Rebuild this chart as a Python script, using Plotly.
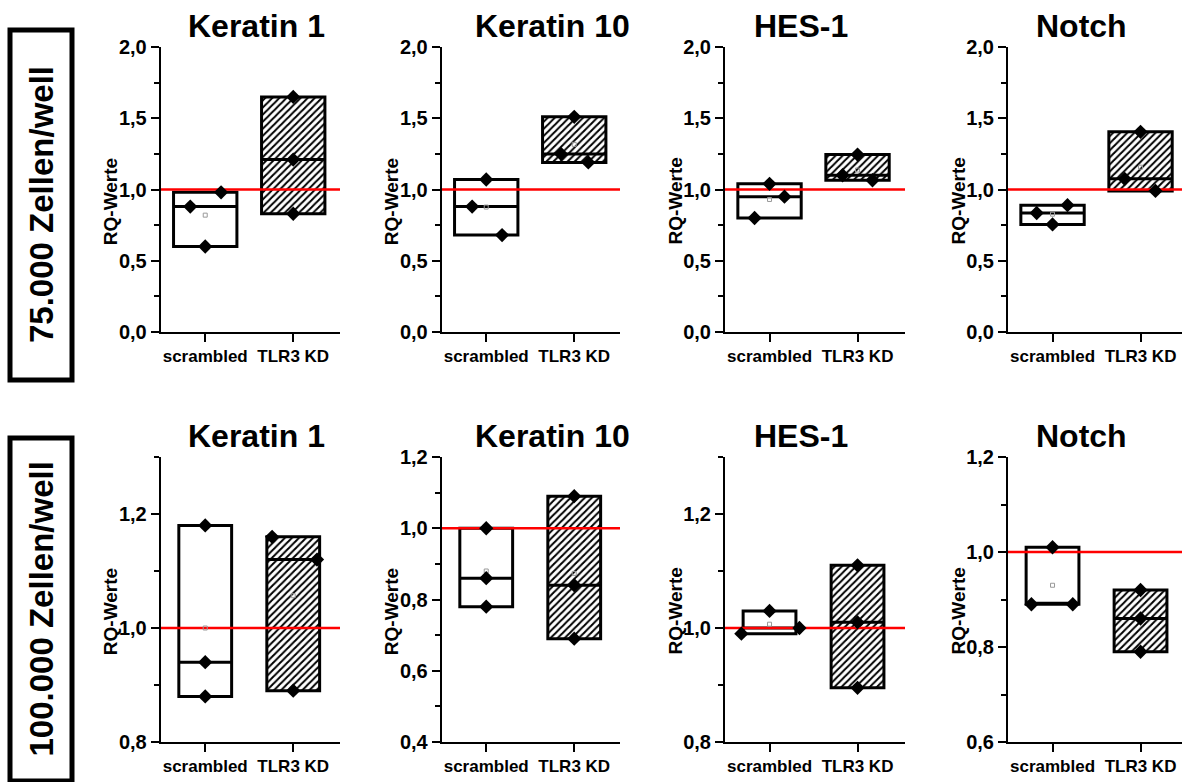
import numpy as np
import plotly.graph_objects as go

# ---------------- data ----------------
CATEGORIES = ["scrambled", "TLR3 KD"]
GENES = ["Keratin 1", "Keratin 10", "HES-1", "Notch"]
ROW_LABELS = ["75.000 Zellen/well", "100.000 Zellen/well"]
Y_LABEL = "RQ-Werte"
REFERENCE_VALUE = 1.0

# 75.000 Zellen/well  (three replicates per group)
K1_75_SCR = [0.98, 0.88, 0.60]
K1_75_KD = [1.65, 1.21, 0.83]
K10_75_SCR = [1.07, 0.88, 0.68]
K10_75_KD = [1.51, 1.25, 1.19]
HES_75_SCR = [1.04, 0.95, 0.80]
HES_75_KD = [1.245, 1.10, 1.065]
NOTCH_75_SCR = [0.89, 0.835, 0.755]
NOTCH_75_KD = [1.405, 1.075, 0.99]

# 100.000 Zellen/well
K1_100_SCR = [1.18, 0.94, 0.88]
K1_100_KD = [1.16, 1.12, 0.89]
K10_100_SCR = [1.00, 0.86, 0.78]
K10_100_KD = [1.09, 0.84, 0.69]
HES_100_SCR = [1.03, 1.00, 0.99]
HES_100_KD = [1.11, 1.01, 0.895]
NOTCH_100_SCR = [1.01, 0.89, 0.89]
NOTCH_100_KD = [0.92, 0.86, 0.79]

ROW_DATA = [
    [(K1_75_SCR, K1_75_KD), (K10_75_SCR, K10_75_KD), (HES_75_SCR, HES_75_KD), (NOTCH_75_SCR, NOTCH_75_KD)],
    [(K1_100_SCR, K1_100_KD), (K10_100_SCR, K10_100_KD), (HES_100_SCR, HES_100_KD), (NOTCH_100_SCR, NOTCH_100_KD)],
]

# ---------------- style / layout ----------------
W, H = 1182, 782
FONT = "Liberation Sans"

# horizontal point spread (style), in category units
JITTER = [
    [([0.18, -0.17, 0.0], [0, 0, 0]), ([0, -0.16, 0.18], [0, -0.15, 0.16]),
     ([0, 0.17, -0.17], [0, -0.17, 0.17]), ([0.17, -0.18, 0], [0, -0.18, 0.17])],
    [([0, 0, 0], [-0.24, 0.27, 0]), ([0, 0, 0], [0, 0, 0]),
     ([0, 0.34, -0.32], [0, 0, 0]), ([0, -0.24, 0.23], [0, 0, 0])],
]
Y_RANGES = [
    [(0, 2), (0, 2), (0, 2), (0, 2)],
    [(0.8, 1.3), (0.4, 1.2), (0.8, 1.3), (0.6, 1.2)],
]
Y_DTICK = [(0.5, 0.25), (0.2, 0.1)]
BOX_WIDTH = [0.72, 0.6]
AXIS_LEFT_PX = [160.7, 441.7, 725, 1008]
AXIS_RIGHT_PX = [340, 620, 905, 1182]
ROW_TOP_PX = [47, 457]
ROW_BOTTOM_PX = [332, 742]
TITLE_X_PX = [256, 552, 801, 1081]
TITLE_Y_PX = [26, 436]
PX_PER_UNIT = 88.0
X0 = 0.494


def fx(px):
    return px / W


def fy(px):
    return 1 - px / H


fig = go.Figure()
annotations = []
shapes = []
layout_axes = {}

idx = 0
for r in range(2):
    for c in range(4):
        idx += 1
        xa = "x" if idx == 1 else f"x{idx}"
        ya = "y" if idx == 1 else f"y{idx}"
        xr = [X0, X0 + (AXIS_RIGHT_PX[c] - AXIS_LEFT_PX[c]) / PX_PER_UNIT]
        scr, kd = ROW_DATA[r][c]
        groups = [np.array(scr), np.array(kd)]
        xs = np.array([1, 2])
        mins = np.array([g.min() for g in groups])
        maxs = np.array([g.max() for g in groups])
        meds = np.array([np.median(g) for g in groups])
        means = np.array([g.mean() for g in groups])
        bw = BOX_WIDTH[r]

        # hatched / white fill
        fig.add_trace(go.Bar(
            x=xs, y=maxs - mins, base=mins, width=bw,
            marker=dict(color="white", line=dict(width=0),
                        pattern=dict(shape=["", "/"], fgcolor="black", bgcolor="white",
                                     size=5, solidity=0.4)),
            xaxis=xa, yaxis=ya, showlegend=False, hoverinfo="skip"))
        # box outline + median
        fig.add_trace(go.Box(
            x=xs, q1=mins, median=meds, q3=maxs, lowerfence=mins, upperfence=maxs,
            width=bw, whiskerwidth=0, fillcolor="rgba(0,0,0,0)",
            line=dict(color="black", width=3), boxpoints=False,
            xaxis=xa, yaxis=ya, showlegend=False, hoverinfo="skip"))
        # reference line at 1.0
        fig.add_trace(go.Scatter(
            x=xr, y=[REFERENCE_VALUE, REFERENCE_VALUE], mode="lines",
            line=dict(color="#ff0000", width=2.5), xaxis=xa, yaxis=ya,
            showlegend=False, hoverinfo="skip", cliponaxis=False))
        # mean markers
        fig.add_trace(go.Scatter(
            x=xs, y=means, mode="markers",
            marker=dict(symbol="square-open", size=4, color="#999999", line=dict(width=1)),
            xaxis=xa, yaxis=ya, showlegend=False, hoverinfo="skip"))
        # individual points
        jit = JITTER[r][c]
        px_ = np.concatenate([1 + np.array(jit[0]), 2 + np.array(jit[1])])
        py_ = np.concatenate(groups)
        fig.add_trace(go.Scatter(
            x=px_, y=py_, mode="markers",
            marker=dict(symbol="diamond", size=11, color="black"),
            xaxis=xa, yaxis=ya, showlegend=False, cliponaxis=False))

        dom_x = [fx(AXIS_LEFT_PX[c]), min(1.0, fx(AXIS_RIGHT_PX[c]))]
        dom_y = [fy(ROW_BOTTOM_PX[r]), fy(ROW_TOP_PX[r])]
        layout_axes["xaxis" if idx == 1 else f"xaxis{idx}"] = dict(
            domain=dom_x, anchor=ya, range=xr, tickvals=[1, 2], ticktext=CATEGORIES,
            showline=True, linewidth=2, linecolor="black", ticks="outside", ticklen=8,
            tickwidth=2, tickcolor="black", showgrid=False, zeroline=False, automargin=False,
            tickfont=dict(family=FONT, size=17, color="black", weight="bold"))
        dt, mdt = Y_DTICK[r]
        layout_axes["yaxis" if idx == 1 else f"yaxis{idx}"] = dict(
            domain=dom_y, anchor=xa, range=list(Y_RANGES[r][c]), dtick=dt, tick0=0,
            tickformat=".1f", showline=True, linewidth=2, linecolor="black",
            ticks="outside", ticklen=8, tickwidth=2, tickcolor="black",
            minor=dict(dtick=mdt, ticks="outside", ticklen=5, tickwidth=2, tickcolor="black"),
            showgrid=False, zeroline=False, automargin=False,
            tickfont=dict(family=FONT, size=20, color="black", weight="bold"))

        annotations.append(dict(
            text=GENES[c], x=fx(TITLE_X_PX[c]), y=fy(TITLE_Y_PX[r]), xref="paper", yref="paper",
            xanchor="center", yanchor="middle", showarrow=False,
            font=dict(family=FONT, size=32, color="black", weight="bold")))
        annotations.append(dict(
            text=Y_LABEL, x=fx(AXIS_LEFT_PX[c] - 50), y=fy((ROW_TOP_PX[r] + ROW_BOTTOM_PX[r]) / 2 + 12),
            xref="paper", yref="paper", xanchor="center", yanchor="middle", textangle=-90,
            showarrow=False, font=dict(family=FONT, size=19, color="black", weight="bold")))

# row labels with frames
ROW_BOX_PX = [(10, 30, 72, 380), (10, 438, 72, 781)]
for label, (x0, y0, x1, y1) in zip(ROW_LABELS, ROW_BOX_PX):
    shapes.append(dict(type="rect", xref="paper", yref="paper",
                       x0=fx(x0), x1=fx(x1), y0=fy(y1), y1=fy(y0),
                       line=dict(color="black", width=5), fillcolor="white", layer="below"))
    annotations.append(dict(
        text=label, x=fx((x0 + x1) / 2), y=fy((y0 + y1) / 2), xref="paper", yref="paper",
        xanchor="center", yanchor="middle", textangle=-90, showarrow=False,
        font=dict(family=FONT, size=33, color="black", weight="bold")))

fig.update_layout(
    template="none",
    width=W, height=H, margin=dict(l=0, r=0, t=0, b=0, pad=0), autosize=False,
    paper_bgcolor="white", plot_bgcolor="rgba(0,0,0,0)",
    separators=",.", barmode="overlay", boxmode="overlay",
    annotations=annotations, shapes=shapes, showlegend=False,
    font=dict(family=FONT, color="black"),
    **layout_axes)

fig.write_html("out.html", config={"displayModeBar": False},
               post_script="document.body.style.margin='0';document.body.style.overflow='hidden';")
